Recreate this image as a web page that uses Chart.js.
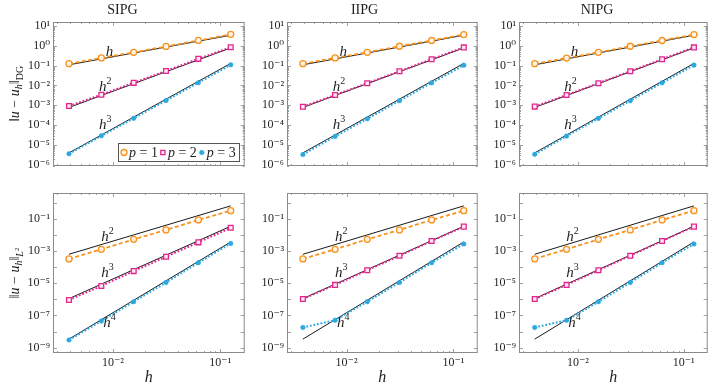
<!DOCTYPE html>
<html>
<head>
<meta charset="utf-8">
<script src="https://cdn.jsdelivr.net/npm/chart.js@4.4.0/dist/chart.umd.min.js"></script>
<style>
  body { margin: 0; background: #fff; }
  #wrap { position: relative; width: 713px; height: 387px; overflow: hidden; }
  #wrap canvas { position: absolute; }
</style>
</head>
<body>
<div id="wrap"></div>
<script>
// mesh sizes
const hValues = [1/256, 1/128, 1/64, 1/32, 1/16, 1/8];

// ||u - u_h||_DG
const sipgDgP1 = [0.125, 0.245, 0.47, 0.93, 1.86, 3.8];
const sipgDgP2 = [9.2e-4, 3.4e-3, 0.0136, 0.054, 0.22, 0.84];
const sipgDgP3 = [3.6e-6, 2.9e-5, 2.2e-4, 1.75e-3, 0.0138, 0.11];
const iipgDgP1 = [0.125, 0.245, 0.47, 0.95, 1.85, 3.7];
const iipgDgP2 = [8.5e-4, 3.3e-3, 0.013, 0.052, 0.21, 0.83];
const iipgDgP3 = [3.3e-6, 2.7e-5, 2.1e-4, 1.7e-3, 0.0135, 0.105];
const nipgDgP1 = [0.125, 0.24, 0.47, 0.95, 1.85, 3.7];
const nipgDgP2 = [8.6e-4, 3.3e-3, 0.013, 0.052, 0.21, 0.83];
const nipgDgP3 = [3.4e-6, 2.8e-5, 2.2e-4, 1.7e-3, 0.0136, 0.106];

// ||u - u_h||_L2
const sipgL2P1 = [3.2e-4, 1.26e-3, 5.2e-3, 0.020, 0.083, 0.31];
const sipgL2P2 = [9.1e-7, 6.7e-6, 5.6e-5, 4.3e-4, 3.4e-3, 0.027];
const sipgL2P3 = [3.0e-9, 4.5e-8, 7.1e-7, 1.1e-5, 1.85e-4, 2.9e-3];
const iipgL2P1 = [3.2e-4, 1.26e-3, 5.2e-3, 0.020, 0.083, 0.31];
const iipgL2P2 = [1.05e-6, 7.8e-6, 6.3e-5, 5.0e-4, 4.1e-3, 0.032];
const iipgL2P3 = [1.8e-8, 5.0e-8, 7.1e-7, 1.1e-5, 1.85e-4, 2.7e-3];
const nipgL2P1 = [3.2e-4, 1.26e-3, 5.2e-3, 0.020, 0.083, 0.31];
const nipgL2P2 = [1.05e-6, 7.8e-6, 6.3e-5, 5.0e-4, 4.1e-3, 0.032];
const nipgL2P3 = [1.8e-8, 5.0e-8, 7.1e-7, 1.1e-5, 1.85e-4, 2.7e-3];

// reference slopes, value at h = 1/256 and h = 1/8
const refEnds = [1/256, 1/8];
const dgRefH1 = [0.11, 3.4];
const dgRefH2 = [7.8e-4, 0.78];
const dgRefH3 = [4.0e-6, 0.13];
const l2RefH2 = [6.2e-4, 0.62];
const l2RefH3 = [1.1e-6, 0.034];
const l2RefH4 = [3.4e-9, 3.6e-3];

// rate labels: order and where they sit (h, error)
const dgRateOrders = [1, 2, 3];
const dgRateAt = [[0.0093, 0.57], [0.0085, 9e-3], [0.0085, 1.15e-4]];
const l2RateOrders = [2, 3, 4];
const l2RateAt = [[0.0089, 8.4e-3], [0.0089, 5.1e-5], [0.0093, 3.9e-8]];

const methods = ['SIPG', 'IIPG', 'NIPG'];
const seriesNames = ['p = 1', 'p = 2', 'p = 3'];
const xTicks = [1e-2, 1e-1];
const dgTicks = [1e-6, 1e-5, 1e-4, 1e-3, 1e-2, 1e-1, 1e0, 1e1];
const l2Ticks = [1e-9, 1e-7, 1e-5, 1e-3, 1e-1];

const SERIF = '"Liberation Serif", "DejaVu Serif", serif';
const TEXT = '#1e1e1e';
const FRAME = '#8a8a8a';
const ORANGE = '#f7931e', MAGENTA = '#e3268c', CYAN = '#2aa8e0';

const lineStyles = [
  { borderColor: ORANGE, borderWidth: 1.8, borderDash: [4, 2.5], pointStyle: 'circle', pointRadius: 3,
    pointBorderWidth: 1.3, pointBorderColor: ORANGE, pointBackgroundColor: '#fff3e4' },
  { borderColor: MAGENTA, borderWidth: 2, borderDash: [1.8, 1.8], pointStyle: 'rect', pointRadius: 3.4,
    pointBorderWidth: 1.3, pointBorderColor: MAGENTA, pointBackgroundColor: '#fde6f1' },
  { borderColor: CYAN, borderWidth: 2, borderDash: [1.8, 1.8], pointStyle: 'circle', pointRadius: 2.3,
    pointBorderWidth: 0.5, pointBorderColor: CYAN, pointBackgroundColor: CYAN }
];

const panels = [
  { row: 0, col: 0, p: [sipgDgP1, sipgDgP2, sipgDgP3], ref: [dgRefH1, dgRefH2, dgRefH3] },
  { row: 0, col: 1, p: [iipgDgP1, iipgDgP2, iipgDgP3], ref: [dgRefH1, dgRefH2, dgRefH3] },
  { row: 0, col: 2, p: [nipgDgP1, nipgDgP2, nipgDgP3], ref: [dgRefH1, dgRefH2, dgRefH3] },
  { row: 1, col: 0, p: [sipgL2P1, sipgL2P2, sipgL2P3], ref: [l2RefH2, l2RefH3, l2RefH4] },
  { row: 1, col: 1, p: [iipgL2P1, iipgL2P2, iipgL2P3], ref: [l2RefH2, l2RefH3, l2RefH4] },
  { row: 1, col: 2, p: [nipgL2P1, nipgL2P2, nipgL2P3], ref: [l2RefH2, l2RefH3, l2RefH4] }
];

// page layout of the six canvases and their plot areas
const colBoxes = [
  { left: 0, width: 250, areaLeft: 53, areaRight: 245 },
  { left: 250, width: 233, areaLeft: 287, areaRight: 479 },
  { left: 483, width: 230, areaLeft: 519, areaRight: 711 }
];
const rowBoxes = [
  { top: 0, height: 200, areaTop: 22, areaBottom: 183 },
  { top: 178, height: 209, areaTop: 193, areaBottom: 353 }
];
const xRange = [Math.pow(10, -2.557), Math.pow(10, -0.773)];
const yRanges = [[Math.pow(10, -6.06), Math.pow(10, 1.2)], [Math.pow(10, -9.33), Math.pow(10, 0.59)]];

const supMap = { '-': '\u207B', '0': '\u2070', '1': '\u00B9', '2': '\u00B2', '3': '\u00B3',
  '4': '\u2074', '5': '\u2075', '6': '\u2076', '7': '\u2077', '8': '\u2078', '9': '\u2079' };
function powLabel(v) {
  const e = Math.round(Math.log10(v));
  return '10' + String(e).split('').map(c => supMap[c]).join('');
}

function font(style, size) {
  return (style === 'i' ? 'italic ' : '') + size + 'px ' + SERIF;
}

// draw a run of text pieces (with sub/superscripts) centred on x
function drawPieces(ctx, pieces, x, baseline) {
  let total = 0;
  pieces.forEach(p => { ctx.font = font(p.s, p.z); p.w = ctx.measureText(p.t).width; total += p.w; });
  let cx = x - total / 2;
  pieces.forEach(p => { ctx.font = font(p.s, p.z); ctx.fillText(p.t, cx, baseline + (p.dy || 0)); cx += p.w; });
  return total;
}

const panelDecor = {
  id: 'panelDecor',
  afterDatasetsDraw(chart, args, opts) {
    const { ctx, chartArea: a } = chart;
    const x = chart.scales.x, y = chart.scales.y;
    ctx.save();
    ctx.strokeStyle = FRAME;
    ctx.lineWidth = 0.8;
    ctx.beginPath();
    // inward ticks on the h axis
    for (let n = -3; n <= -1; n++) {
      for (let k = 1; k <= 9; k++) {
        const v = k * Math.pow(10, n);
        if (v < x.min || v > x.max) continue;
        const px = Math.round(x.getPixelForValue(v)) + 0.5;
        const len = k === 1 ? 4 : 2;
        ctx.moveTo(px, a.bottom); ctx.lineTo(px, a.bottom - len);
        ctx.moveTo(px, a.top); ctx.lineTo(px, a.top + len);
      }
    }
    // inward ticks on the error axis
    for (let n = -10; n <= 1; n++) {
      const ks = opts.minorY ? [1, 2, 3, 4, 5, 6, 7, 8, 9] : [1];
      ks.forEach(k => {
        const v = k * Math.pow(10, n);
        if (v < y.min || v > y.max) return;
        const py = Math.round(y.getPixelForValue(v)) + 0.5;
        const len = k === 1 ? 4 : 2;
        ctx.moveTo(a.left, py); ctx.lineTo(a.left + len, py);
        ctx.moveTo(a.right, py); ctx.lineTo(a.right - len, py);
      });
    }
    ctx.stroke();
    ctx.lineWidth = 1;
    ctx.strokeRect(a.left + 0.5, a.top + 0.5, a.right - a.left - 1, a.bottom - a.top - 1);

    // rate labels h, h^2, ...
    ctx.fillStyle = TEXT;
    ctx.textBaseline = 'alphabetic';
    opts.rateOrders.forEach((k, i) => {
      const px = x.getPixelForValue(opts.rateAt[i][0]);
      const py = y.getPixelForValue(opts.rateAt[i][1]);
      const pieces = [{ t: 'h', s: 'i', z: 15 }];
      if (k > 1) pieces.push({ t: String(k), s: 'n', z: 10, dy: -7 });
      drawPieces(ctx, pieces, px, py + 5);
    });

    // y axis title
    if (opts.yTitle) {
      ctx.save();
      ctx.translate(14, (a.top + a.bottom) / 2);
      ctx.rotate(-Math.PI / 2);
      const pieces = [
        { t: '\u2016', s: 'n', z: 14 }, { t: 'u', s: 'i', z: 14 }, { t: ' \u2212 ', s: 'n', z: 14 },
        { t: 'u', s: 'i', z: 14 }, { t: 'h', s: 'i', z: 10, dy: 3 }, { t: '\u2016', s: 'n', z: 14 }
      ];
      if (opts.yTitle === 'DG') pieces.push({ t: 'DG', s: 'n', z: 10, dy: 4 });
      else pieces.push({ t: 'L', s: 'i', z: 10, dy: 4 }, { t: '2', s: 'n', z: 7, dy: -0.5 });
      drawPieces(ctx, pieces, 0, 5);
      ctx.restore();
    }

    // legend box
    if (opts.legend) {
      const sizes = seriesNames.map(name => {
        ctx.font = font('i', 14);
        const wp = ctx.measureText('p').width;
        ctx.font = font('n', 14);
        return wp + ctx.measureText(name.slice(1)).width;
      });
      const mark = 8, gap = 2;
      const w = sizes.reduce((s, v) => s + v + mark + gap, 0) + 4;
      const h = 18;
      const right = a.right - 6, bottom = a.bottom - 5;
      const left = right - w, top = bottom - h;
      ctx.fillStyle = '#fff';
      ctx.fillRect(left, top, w, h);
      ctx.strokeStyle = '#555';
      ctx.lineWidth = 1;
      ctx.strokeRect(Math.round(left) + 0.5, top + 0.5, Math.round(w), h);
      let cx = left + 3;
      const cy = top + h / 2 + 0.5;
      chart.data.datasets.slice(0, 3).forEach((ds, i) => {
        ctx.fillStyle = ds.pointBackgroundColor;
        ctx.strokeStyle = ds.pointBorderColor;
        ctx.lineWidth = ds.pointBorderWidth;
        Chart.helpers.drawPoint(ctx, { pointStyle: ds.pointStyle, radius: Math.min(ds.pointRadius, 3), borderWidth: ds.pointBorderWidth }, cx + 3, cy);
        cx += mark;
        ctx.fillStyle = TEXT;
        ctx.font = font('i', 14);
        ctx.fillText('p', cx, cy + 4.5);
        const wp = ctx.measureText('p').width;
        ctx.font = font('n', 14);
        ctx.fillText(seriesNames[i].slice(1), cx + wp, cy + 4.5);
        cx += sizes[i] + gap;
      });
    }
    ctx.restore();
  }
};

const wrap = document.getElementById('wrap');

function series(vals, xs) {
  return vals.map((v, i) => ({ x: xs[i], y: v }));
}

panels.forEach(panel => {
  const col = colBoxes[panel.col], row = rowBoxes[panel.row];
  const isTop = panel.row === 0;
  const cv = document.createElement('canvas');
  cv.width = col.width; cv.height = row.height;
  cv.style.left = col.left + 'px'; cv.style.top = row.top + 'px';
  cv.style.width = col.width + 'px'; cv.style.height = row.height + 'px';
  wrap.appendChild(cv);

  const datasets = panel.p.map((vals, i) => Object.assign(
    { label: seriesNames[i], data: series(vals, hValues), tension: 0, fill: false }, lineStyles[i]))
    .concat(panel.ref.map(vals => ({
      label: 'ref', data: series(vals, refEnds), borderColor: '#000', borderWidth: 0.9,
      pointRadius: 0, tension: 0, fill: false
    })));

  new Chart(cv, {
    type: 'line',
    data: { datasets },
    options: {
      responsive: false,
      animation: false,
      devicePixelRatio: 1,
      layout: {
        padding: {
          left: 0,
          right: col.left + col.width - col.areaRight,
          top: isTop ? 0 : row.areaTop - row.top,
          bottom: isTop ? row.top + row.height - row.areaBottom : 0
        }
      },
      scales: {
        x: {
          type: 'logarithmic', min: xRange[0], max: xRange[1], bounds: 'data',
          display: !isTop,
          grid: { display: false, drawTicks: false },
          border: { display: false },
          afterBuildTicks: s => { s.ticks = xTicks.map(v => ({ value: v })); },
          afterFit: s => { s.height = row.top + row.height - row.areaBottom; },
          ticks: { padding: 3, autoSkip: false, maxRotation: 0, color: TEXT,
            font: { family: SERIF, size: 12 }, callback: v => powLabel(v) },
          title: { display: true, text: 'h', color: TEXT, padding: 0,
            font: { family: SERIF, size: 16, style: 'italic' } }
        },
        y: {
          type: 'logarithmic', min: yRanges[panel.row][0], max: yRanges[panel.row][1], bounds: 'data',
          grid: { display: false, drawTicks: false },
          border: { display: false },
          afterBuildTicks: s => { s.ticks = (isTop ? dgTicks : l2Ticks).map(v => ({ value: v })); },
          afterFit: s => { s.width = col.areaLeft - col.left; },
          ticks: { padding: 3, autoSkip: false, color: TEXT,
            font: { family: SERIF, size: 12 }, callback: v => powLabel(v) }
        }
      },
      plugins: {
        legend: { display: false },
        tooltip: { enabled: false },
        title: isTop
          ? { display: true, text: methods[panel.col], color: TEXT,
              font: { family: SERIF, size: 14, weight: 'normal' }, padding: { top: 2, bottom: 3.2 } }
          : { display: false },
        panelDecor: {
          minorY: isTop,
          rateOrders: isTop ? dgRateOrders : l2RateOrders,
          rateAt: isTop ? dgRateAt : l2RateAt,
          yTitle: panel.col === 0 ? (isTop ? 'DG' : 'L2') : null,
          legend: isTop && panel.col === 0
        }
      }
    },
    plugins: [panelDecor]
  });
});
</script>
</body>
</html>
